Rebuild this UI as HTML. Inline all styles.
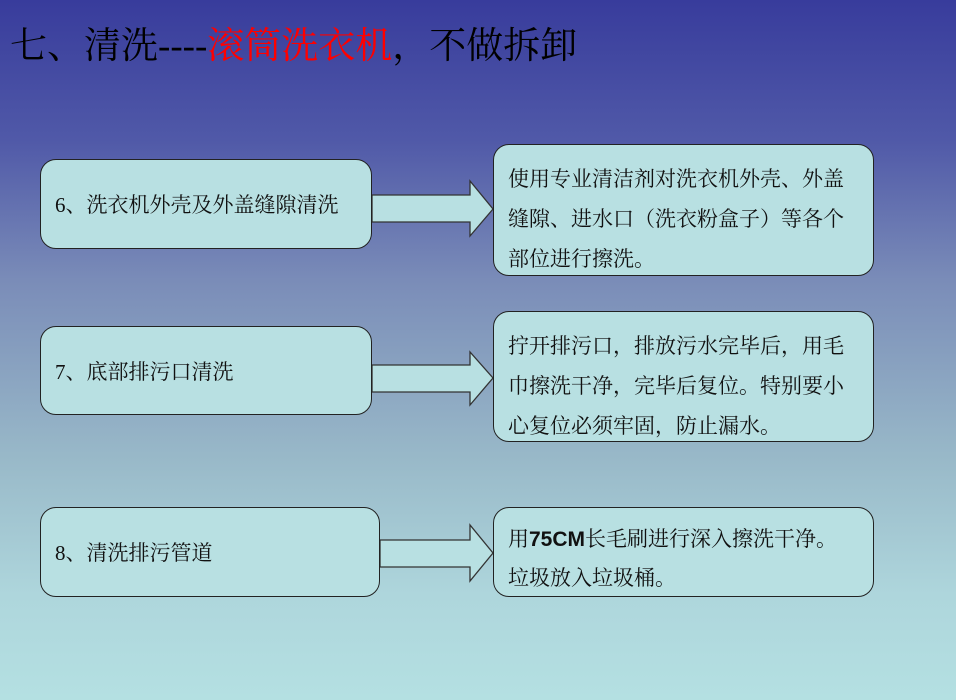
<!DOCTYPE html>
<html><head><meta charset="utf-8"><style>
body{margin:0;width:956px;height:700px;overflow:hidden;
background:linear-gradient(to bottom,#383c9c 0%,#5059a8 20%,#7a8cb8 40%,#98b8c8 65%,#aed6dc 85%,#b4e0e2 100%);
font-family:"Liberation Serif","Noto Serif CJK SC",serif;position:relative}
.t{position:absolute;left:10px;top:15px;font-size:37px;font-family:"Liberation Serif","Noto Serif CJK SC",serif;color:#000;white-space:nowrap}
.b{position:absolute;background:#b8e0e2;border:1.5px solid #222;border-radius:16px;box-sizing:border-box;font-size:21px;color:#111;white-space:nowrap}
.l{display:flex;align-items:center;padding-left:14px}
.r{padding:14px 14px;line-height:40px;font-size:21px}
svg{position:absolute;left:0;top:0}
</style></head><body>
<div class="t">七、清洗----<span style="color:#f00">滚筒洗衣机</span>，不做拆卸</div>
<svg width="956" height="700">
<g fill="#b8e0e2" stroke="#333" stroke-width="1.3">
<polygon points="372,195 470,195 470,181 493,209 470,236 470,222 372,222"/>
<polygon points="372,365 470,365 470,352 493,378 470,405 470,392 372,392"/>
<polygon points="380,540 470,540 470,525 493,553 470,581 470,567 380,567"/>
</g></svg>
<div class="b l" style="left:40px;top:159px;width:332px;height:90px">6、洗衣机外壳及外盖缝隙清洗</div>
<div class="b r" style="left:493px;top:144px;width:381px;height:132px">使用专业清洁剂对洗衣机外壳、外盖<br>缝隙、进水口（洗衣粉盒子）等各个<br>部位进行擦洗。</div>
<div class="b l" style="left:40px;top:326px;width:332px;height:89px">7、底部排污口清洗</div>
<div class="b r" style="left:493px;top:311px;width:381px;height:131px">拧开排污口，排放污水完毕后，用毛<br>巾擦洗干净，完毕后复位。特别要小<br>心复位必须牢固，防止漏水。</div>
<div class="b l" style="left:40px;top:507px;width:340px;height:90px">8、清洗排污管道</div>
<div class="b r" style="left:493px;top:507px;width:381px;height:90px;padding-top:12px;line-height:38px">用<b style="font-family:'Liberation Sans',sans-serif">75CM</b>长毛刷进行深入擦洗干净。<br>垃圾放入垃圾桶。</div>
</body></html>
